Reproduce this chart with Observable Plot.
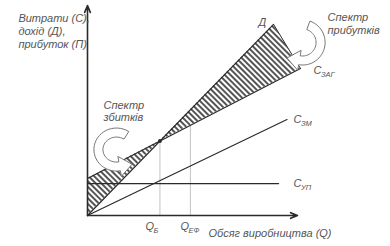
<!DOCTYPE html>
<html>
<head>
<meta charset="utf-8">
<script src="https://cdn.jsdelivr.net/npm/d3@7"></script>
<script src="https://cdn.jsdelivr.net/npm/@observablehq/plot@0.6"></script>
<style>
  html, body { margin: 0; padding: 0; background: #fff; }
</style>
</head>
<body>
<div id="chart"></div>
<script>
// Break-even chart: end points of each line as (Q, value) pairs
const revenueQ = [0, 88.6];     // Д
const revenueV = [0, 91];
const totalQ = [0, 101.4];      // С заг
const totalV = [17.6, 70];
const variableQ = [0, 95];      // С зм
const variableV = [0, 45.7];
const fixedQ = [0, 91];         // С уп
const fixedV = [15.2, 15.2];
const qEffective = 49;          // Q ЕФ

const lineNames = ["С", "С", "С"];
const lineSubs = ["ЗАГ", "ЗМ", "УП"];
const qNames = ["Q", "Q"];
const qSubs = ["Б", "ЕФ"];

const yTitle = "Витрати (С),\nдохід (Д),\nприбуток (П)";
const xTitle = "Обсяг виробництва (Q)";
const profitText = "Спектр\nприбутків";
const lossText = "Спектр\nзбитків";

// value of a straight line given by two end points
const at = (qs, vs, q) => vs[0] + (vs[1] - vs[0]) * (q - qs[0]) / (qs[1] - qs[0]);

// break-even volume: revenue meets total cost
const slopeR = (revenueV[1] - revenueV[0]) / (revenueQ[1] - revenueQ[0]);
const slopeT = (totalV[1] - totalV[0]) / (totalQ[1] - totalQ[0]);
const qBreak = (totalV[0] - revenueV[0]) / (slopeR - slopeT);
const vBreak = at(revenueQ, revenueV, qBreak);

const toPts = (qs, vs) => qs.map((q, i) => ({q, v: vs[i]}));

// hatched zones
const lossZone = [
  {q: 0, lo: at(revenueQ, revenueV, 0), hi: at(totalQ, totalV, 0)},
  {q: qBreak, lo: vBreak, hi: vBreak}
];
const profitZone = [
  {q: qBreak, lo: vBreak, hi: vBreak},
  {q: revenueQ[1], lo: at(totalQ, totalV, revenueQ[1]), hi: revenueV[1]},
  {q: totalQ[1], lo: totalV[1], hi: totalV[1]}
];

// curved hollow block arrow around an ellipse arc (angles in degrees)
function blockArrow(cx, cy, rx, ry, a0, a1, w, hw, hl) {
  const rad = Math.PI / 180, n = 30, pts = [];
  const p = (a, off) => [cx + (rx + off) * Math.cos(a * rad), cy + (ry + off) * Math.sin(a * rad)];
  for (let i = 0; i <= n; i++) pts.push(p(a0 + (a1 - a0) * i / n, w / 2));
  const s = Math.sign(a1 - a0);
  let tx = -rx * Math.sin(a1 * rad) * s, ty = ry * Math.cos(a1 * rad) * s;
  const len = Math.hypot(tx, ty); tx /= len; ty /= len;
  const c = p(a1, 0);
  pts.push(p(a1, hw));
  pts.push([c[0] + tx * hl, c[1] + ty * hl]);
  pts.push(p(a1, -hw));
  for (let i = n; i >= 0; i--) pts.push(p(a0 + (a1 - a0) * i / n, -w / 2));
  return pts;
}
const profitArrow = blockArrow(102.4, 82.4, 8.6, 8.6, 70, -100, 4.3, 4.8, 6);
const lossArrow = blockArrow(13.8, 31.4, 8.6, 8.1, 58, 280, 4.3, 4.8, 6);

const ink = "#2b2b2b";
const textColor = "#555";
const font = {fontFamily: "Liberation Sans, Arial, sans-serif", fontStyle: "italic", fill: textColor, stroke: "none", textAnchor: "start", lineAnchor: "top"};

const chart = Plot.plot({
  width: 390,
  height: 246,
  marginLeft: 87,
  marginRight: 93,
  marginTop: 5,
  marginBottom: 31,
  x: {domain: [0, 100], axis: null},
  y: {domain: [0, 100], axis: null},
  marks: [
    // guide lines for Q Б and Q ЕФ
    Plot.ruleX([qBreak], {y1: 0, y2: vBreak, stroke: "#bbb", strokeWidth: 0.9}),
    Plot.ruleX([qEffective], {y1: 0, y2: at(totalQ, totalV, qEffective), stroke: "#bbb", strokeWidth: 0.9}),
    // hatched loss and profit zones
    Plot.areaY(lossZone, {x: "q", y1: "lo", y2: "hi", fill: "url(#hatch)"}),
    Plot.areaY(profitZone, {x: "q", y1: "lo", y2: "hi", fill: "url(#hatch)"}),
    Plot.line(toPts([revenueQ[1], totalQ[1]], [revenueV[1], totalV[1]]), {x: "q", y: "v", stroke: ink, strokeWidth: 1}),
    // cost and revenue lines
    Plot.line(toPts(fixedQ, fixedV), {x: "q", y: "v", stroke: ink, strokeWidth: 1.2}),
    Plot.line(toPts(variableQ, variableV), {x: "q", y: "v", stroke: ink, strokeWidth: 1.2}),
    Plot.line(toPts(totalQ, totalV), {x: "q", y: "v", stroke: ink, strokeWidth: 1.2}),
    Plot.line(toPts(revenueQ, revenueV), {x: "q", y: "v", stroke: ink, strokeWidth: 1.2}),
    Plot.dot([{q: qBreak, v: vBreak}], {x: "q", y: "v", r: 2, fill: ink}),
    // axes
    Plot.arrow([{x1: 0, y1: 0, x2: 100, y2: 0}, {x1: 0, y1: 0, x2: 0, y2: 100}],
      {x1: "x1", y1: "y1", x2: "x2", y2: "y2", stroke: ink, strokeWidth: 1.6, headLength: 7, headAngle: 45}),
    // hollow arrows
    Plot.line(profitArrow, {x: d => d[0], y: d => d[1], curve: "linear-closed", fill: "white", stroke: "#777", strokeWidth: 1}),
    Plot.line(lossArrow, {x: d => d[0], y: d => d[1], curve: "linear-closed", fill: "white", stroke: "#777", strokeWidth: 1}),
    // texts
    Plot.text([yTitle], {x: -32.9, y: 96.7, text: d => d, fontSize: 11, lineHeight: 1.2, ...font}),
    Plot.text([profitText], {x: 114.3, y: 97, text: d => d, fontSize: 11, lineHeight: 1.18, ...font}),
    Plot.text([lossText], {x: 7.6, y: 54.8, text: d => d, fontSize: 11, lineHeight: 1.12, ...font}),
    Plot.text(["Д"], {x: 81.4, y: 93.8, text: d => d, fontSize: 11, ...font}),
    Plot.text([xTitle], {x: 57.6, y: -6.7, text: d => d, fontSize: 11, ...font}),
    Plot.text(lineNames, {x: [107.6, 98.1, 98.1], y: [71, 47.6, 17.1], text: d => d, fontSize: 11, ...font}),
    Plot.text(lineSubs, {x: [107.6, 98.1, 98.1], y: [71, 47.6, 17.1], text: d => d, fontSize: 7.5, dx: 7.5, dy: 5, ...font}),
    Plot.text(qNames, {x: [27.6, 44.3], y: [-3.3, -3.3], text: d => d, fontSize: 11, ...font}),
    Plot.text(qSubs, {x: [27.6, 44.3], y: [-3.3, -3.3], text: d => d, fontSize: 7.5, dx: 8, dy: 5, ...font})
  ]
});

// stripe pattern for the hatched zones
d3.select(chart).insert("defs", ":first-child").html(
  `<pattern id="hatch" patternUnits="userSpaceOnUse" width="4" height="4" patternTransform="rotate(45)">
     <rect width="4" height="4" fill="white"/>
     <rect x="0" y="1.2" width="4" height="1.6" fill="${ink}"/>
   </pattern>`
);

document.getElementById("chart").append(chart);
</script>
</body>
</html>
